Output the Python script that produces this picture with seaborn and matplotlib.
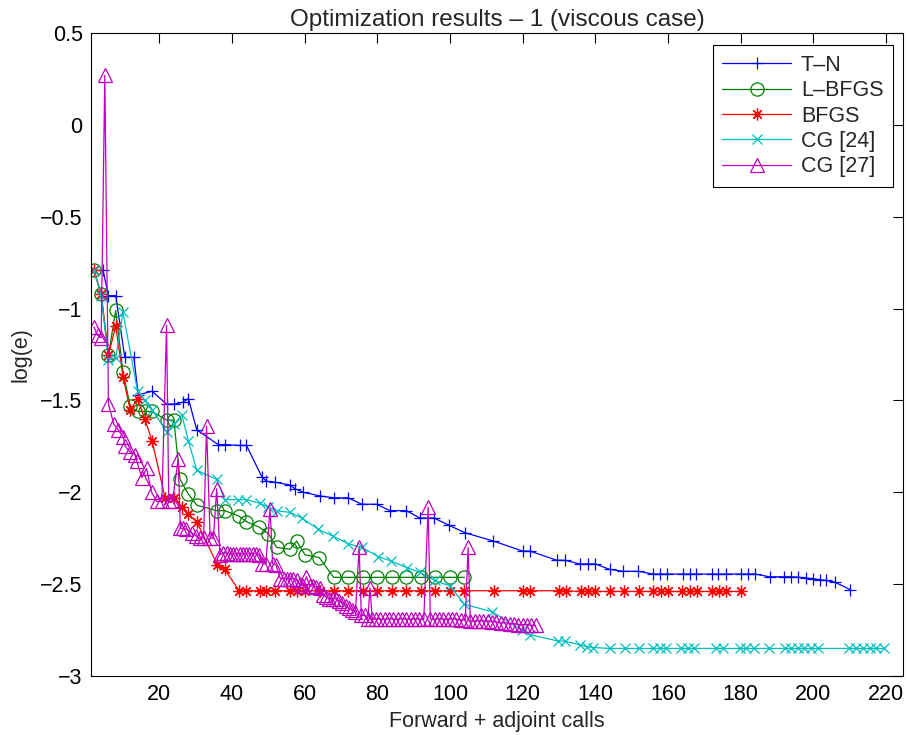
import matplotlib
matplotlib.use("Agg")
import matplotlib.pyplot as plt
from matplotlib.ticker import FuncFormatter, MultipleLocator
import numpy as np
import pandas as pd
import seaborn as sns

# ---- data: forward + adjoint calls vs log(e) ----
tn_x = [4.5, 6, 8, 10.5, 13, 14.2, 18, 22, 24, 26.5, 28, 30.3, 36.2, 38, 42.2, 44,
        48.2, 49.5, 51.8, 55.9, 57.3, 59.6, 64.3, 68, 72, 75.7, 79.8, 83.5, 88, 91.7,
        95.6, 99.8, 104.1, 111.9, 120, 122, 129.4, 131.6, 135.7, 138, 140, 144, 147.7,
        151.8, 155.9, 157.7, 159.7, 164.1, 166, 167.8, 172, 173.7, 176, 180.2, 182,
        183.9, 188, 192, 194, 195.8, 197.9, 199.9, 201.8, 203.6, 205.9, 210.2]
tn_y = [-0.79, -0.93, -0.93, -1.265, -1.265, -1.47, -1.45, -1.52, -1.52, -1.51, -1.49,
        -1.66, -1.74, -1.74, -1.745, -1.745, -1.915, -1.94, -1.945, -1.96, -1.98, -2.0,
        -2.02, -2.03, -2.03, -2.065, -2.065, -2.10, -2.10, -2.14, -2.14, -2.18, -2.22,
        -2.265, -2.32, -2.32, -2.37, -2.37, -2.39, -2.39, -2.39, -2.42, -2.43, -2.43,
        -2.445, -2.445, -2.445, -2.445, -2.445, -2.445, -2.445, -2.445, -2.445, -2.445,
        -2.445, -2.445, -2.46, -2.46, -2.46, -2.462, -2.467, -2.47, -2.476, -2.48,
        -2.489, -2.53]

lbfgs_x = [2, 4, 6, 8, 10, 12, 14, 16, 18, 22, 24, 25.7, 28, 30.3, 35.8, 38, 42, 44,
           47.5, 50, 52.3, 56, 57.8, 60.1, 64, 68, 72, 76, 80, 84, 88, 92, 96, 100, 104]
lbfgs_y = [-0.79, -0.92, -1.255, -1.01, -1.345, -1.53, -1.56, -1.56, -1.56, -1.607,
           -1.607, -1.93, -2.01, -2.07, -2.10, -2.10, -2.13, -2.16, -2.19, -2.225,
           -2.30, -2.31, -2.265, -2.34, -2.355, -2.463, -2.463, -2.463, -2.463, -2.463,
           -2.463, -2.463, -2.463, -2.463, -2.463]

bfgs_x = [2, 4, 6, 8, 10, 12, 14, 16, 18, 21.6, 24, 26.2, 28, 30.3, 36, 38, 42, 44,
          47.7, 49.5, 51.8, 56, 57.8, 60.1, 64.2, 68, 72, 76, 80, 84, 88, 92, 96, 100,
          104, 112, 120, 122, 130, 132, 136, 138, 140, 144, 148, 152, 156, 158, 160,
          164, 166, 168, 172, 174, 176, 180]
bfgs_y = [-0.79, -0.92, -1.255, -1.094, -1.37, -1.553, -1.49, -1.60, -1.72, -2.03,
          -2.03, -2.08, -2.12, -2.16, -2.395, -2.42, -2.536, -2.536, -2.536, -2.536,
          -2.536, -2.536, -2.536, -2.536, -2.536, -2.536, -2.536, -2.536, -2.536,
          -2.536, -2.536, -2.536, -2.536, -2.536, -2.536, -2.536, -2.536, -2.536,
          -2.536, -2.536, -2.54, -2.54, -2.54, -2.54, -2.54, -2.54, -2.54, -2.54,
          -2.54, -2.54, -2.54, -2.54, -2.54, -2.54, -2.54, -2.54]

cg24_x = [2, 4, 6, 8, 10, 14, 16, 18, 22, 24, 26.2, 28, 30.3, 35.8, 38, 41.7, 44, 47.7,
          49.8, 52.3, 56, 59.2, 63.7, 67.9, 72, 75.7, 80.3, 83.9, 88.1, 91.7, 95.8, 100,
          104, 111.6, 119.7, 122, 129.8, 131.6, 135.7, 137.6, 139.4, 144, 148.1, 152,
          155.9, 157.7, 159.5, 163.7, 165.5, 167.3, 173.3, 175.1, 179.7, 181.5, 183.8,
          187.9, 192.1, 193.9, 195.7, 197.5, 199.4, 201.2, 209.9, 211.7, 213.6, 215.5,
          217.3, 219.6]
cg24_y = [-0.79, -0.93, -1.28, -1.27, -1.02, -1.45, -1.50, -1.55, -1.67, -1.63, -1.58,
          -1.72, -1.88, -1.93, -2.04, -2.04, -2.04, -2.06, -2.08, -2.10, -2.11, -2.14,
          -2.20, -2.24, -2.28, -2.30, -2.35, -2.375, -2.41, -2.435, -2.48, -2.51,
          -2.61, -2.65, -2.75, -2.775, -2.81, -2.81, -2.83, -2.84, -2.845, -2.85,
          -2.85, -2.85, -2.85, -2.85, -2.85, -2.85, -2.85, -2.85, -2.85, -2.85, -2.85,
          -2.85, -2.85, -2.85, -2.85, -2.85, -2.85, -2.85, -2.85, -2.85, -2.85, -2.85,
          -2.85, -2.85, -2.85, -2.85]

cg27_x = [2, 3, 4, 5, 6, 7.5, 8.7, 10.1, 10.6, 11.9, 13.3, 13.8, 15.2, 16.5, 17.9, 19.3,
          20.7, 22, 22.6, 23.6, 25.2, 25.8, 26.6, 27.4, 28.9, 30.2, 31.2, 32.2, 33, 34,
          34.9, 35.8, 36.7, 37.6, 38.5, 39.4, 40.3, 41.2, 42.1, 43, 43.9, 44.8, 45.7,
          46.6, 47.5, 48.4, 49.3, 50.5, 51.2, 52.1, 53.3, 54.2, 55.1, 56, 56.9, 57.8,
          58.7, 59.6, 60.5, 61.4, 62.3, 63.2, 64.1, 65, 65.9, 66.8, 67.7, 68.6, 69.5,
          70.4, 71.3, 72.2, 73.1, 74, 75, 75.6, 76.5, 77.4, 78, 78.6, 79.6, 80.8, 82,
          83.2, 84.4, 85.6, 86.8, 88, 89.2, 90.4, 91.6, 92.8, 94, 94.6, 95.8, 97, 98.2,
          99.4, 100.6, 101.8, 103, 104.2, 105, 105.6, 106.8, 108, 109.2, 110.4, 111.6,
          112.8, 114, 115.2, 116.4, 117.6, 118.8, 120, 121.2, 122.4, 123.6]
cg27_y = [-1.10, -1.145, -1.16, 0.27, -1.52, -1.63, -1.66, -1.70, -1.75, -1.78, -1.795,
          -1.83, -1.92, -1.87, -2.0, -2.05, -2.05, -1.09, -2.05, -2.05, -1.82, -2.196,
          -2.196, -2.20, -2.22, -2.24, -2.25, -2.25, -1.64, -2.25, -2.25, -1.98, -2.34,
          -2.33, -2.33, -2.335, -2.335, -2.335, -2.335, -2.335, -2.335, -2.335, -2.335,
          -2.335, -2.34, -2.39, -2.39, -2.09, -2.39, -2.395, -2.47, -2.47, -2.47, -2.47,
          -2.47, -2.48, -2.50, -2.51, -2.46, -2.51, -2.51, -2.515, -2.52, -2.56, -2.57,
          -2.58, -2.58, -2.58, -2.59, -2.60, -2.62, -2.63, -2.64, -2.65, -2.30, -2.67,
          -2.67, -2.69, -2.52, -2.69, -2.69, -2.69, -2.69, -2.69, -2.69, -2.69, -2.69,
          -2.69, -2.69, -2.69, -2.69, -2.69, -2.08, -2.69, -2.69, -2.69, -2.69, -2.69,
          -2.69, -2.69, -2.695, -2.695, -2.30, -2.70, -2.70, -2.70, -2.70, -2.70,
          -2.705, -2.705, -2.71, -2.71, -2.715, -2.715, -2.72, -2.72, -2.72, -2.725,
          -2.725]

series = [
    ("T–N", tn_x, tn_y, (0.0, 0.0, 1.0), "+", 9.0),
    ("L–BFGS", lbfgs_x, lbfgs_y, (0.0, 0.5, 0.0), "o", 9.5),
    ("BFGS", bfgs_x, bfgs_y, (1.0, 0.0, 0.0), (8, 2, 0), 8.5),
    ("CG [24]", cg24_x, cg24_y, (0.0, 0.75, 0.75), "x", 7.0),
    ("CG [27]", cg27_x, cg27_y, (0.75, 0.0, 0.75), "^", 9.5),
]

sns.set_style("white")
plt.rcParams["font.family"] = ["Liberation Sans", "DejaVu Sans"]
plt.rcParams["axes.unicode_minus"] = True

FS = 15.5
fig = plt.figure(figsize=(9.07, 7.35), dpi=100)
ax = fig.add_axes([91 / 907, 1 - 676 / 735, 812 / 907, 643 / 735])

for name, xs, ys, col, mk, ms in series:
    df = pd.DataFrame({"calls": xs, "loge": ys})
    sns.lineplot(data=df, x="calls", y="loge", ax=ax, color=col, marker=mk,
                 markersize=ms, markerfacecolor="none", markeredgecolor=col,
                 markeredgewidth=0.9, linewidth=0.9, sort=False, estimator=None,
                 label=name)

ax.set_xlim(1.2, 224.7)
ax.set_ylim(-3, 0.5)
ax.xaxis.set_major_locator(MultipleLocator(20))
ax.yaxis.set_major_locator(MultipleLocator(0.5))
ax.xaxis.set_major_formatter(FuncFormatter(lambda v, p: f"{v:g}"))
ax.yaxis.set_major_formatter(FuncFormatter(lambda v, p: f"{v:g}".replace("-", "\u2212")))
ax.tick_params(direction="in", length=7, width=0.8, top=True, right=True,
               labelsize=FS, colors="black", pad=6)
for s in ax.spines.values():
    s.set_color("black")
    s.set_linewidth(0.8)

ax.set_xlabel("Forward + adjoint calls", fontsize=FS, labelpad=4)
ax.set_ylabel("log(e)", fontsize=FS, labelpad=6)
ax.set_title("Optimization results – 1 (viscous case)", fontsize=17.5, pad=5)

leg = ax.legend(loc="upper right", bbox_to_anchor=(0.988, 0.981), borderaxespad=0,
                fontsize=FS, fancybox=False, framealpha=1, edgecolor="black",
                handlelength=3.2, handletextpad=0.45, labelspacing=0.2,
                borderpad=0.45)
leg.get_frame().set_linewidth(0.8)

fig.savefig("out.png", dpi=100)
